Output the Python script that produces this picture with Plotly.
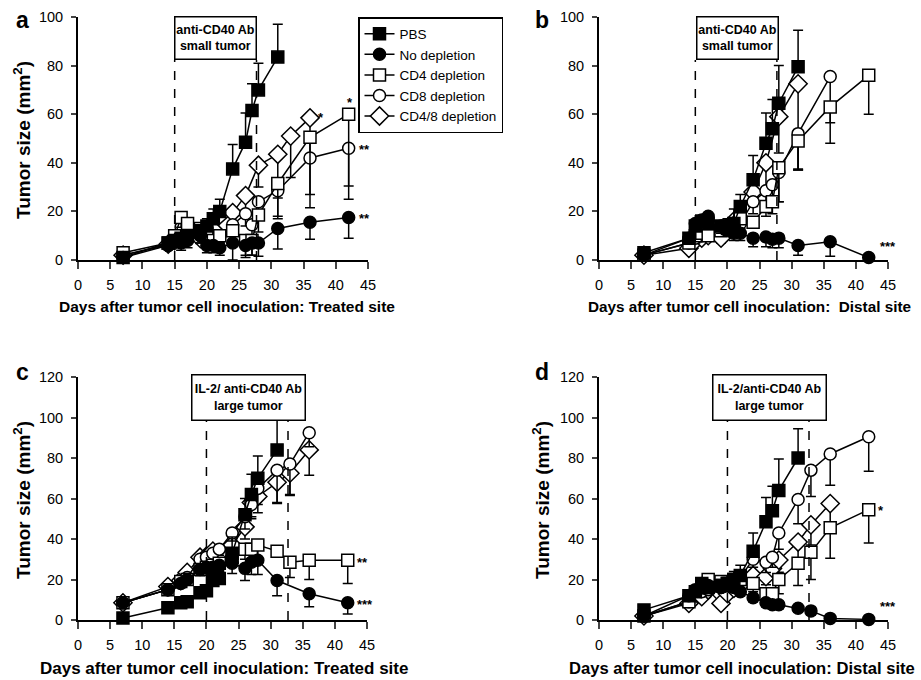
import plotly.graph_objects as go

# ---------------- data ----------------
SERIES = ["PBS", "No depletion", "CD4 depletion", "CD8 depletion", "CD4/8 depletion"]
X_TICKS = [0, 5, 10, 15, 20, 25, 30, 35, 40, 45]

# Panel a: treated site, anti-CD40 Ab small tumor
A_PBS_D = [7, 14, 15, 16, 17, 19, 20, 21, 22, 24, 26, 27, 28, 31]
A_PBS_V = [1, 7, 8, 9, 10, 12, 14, 17, 20, 37.5, 48.5, 61.5, 70, 83.5]
A_PBS_E = [0, 1, 1, 2, 2, 2, 3, 4, 5, 10, 12, 11, 11, 13.5]
A_NOD_D = [7, 14, 15, 16, 17, 19, 20, 21, 22, 24, 26, 27, 28, 31, 36, 42]
A_NOD_V = [1, 6, 8, 7, 8, 10, 6, 6, 5, 7, 6, 7, 7, 13, 15.5, 17.5]
A_NOD_E = [0, 1, 3, 3, 3, 3, 3, 3, 3, 7, 5, 5, 5.5, 8.5, 7, 8.5]
A_CD4_D = [7, 14, 15, 16, 17, 19, 20, 21, 22, 24, 26, 27, 28, 31, 36, 42]
A_CD4_V = [3, 7, 10, 17.5, 15, 13, 11, 8, 10, 12, 8, 8, 18.5, 31.5, 50.5, 60]
A_CD4_E = [0, 1, 3, 4, 4, 3, 3, 3, 3, 4, 6, 6, 7, 13.5, 29, 35]
A_CD8_D = [7, 14, 15, 16, 17, 19, 20, 21, 22, 24, 26, 27, 28, 31, 36, 42]
A_CD8_V = [2, 6, 9, 13.5, 12, 10, 9, 9, 10, 14.5, 19, 14.5, 24, 28.5, 42, 46]
A_CD8_E = [0, 1, 3, 4, 4, 3, 3, 3, 3, 4, 5, 5, 6, 11.5, 15, 15.5]
A_C48_D = [7, 14, 15, 16, 17, 19, 21, 24, 26, 28, 31, 33, 36]
A_C48_V = [2, 6.5, 8, 10, 12, 8.8, 12.5, 19.5, 26.5, 39, 43.5, 51, 58.5]
A_C48_E = [0, 1, 2, 3, 3, 2, 3, 4, 6, 9, 18, 17, 16]

# Panel b: distal site, anti-CD40 Ab small tumor
B_PBS_D = [7, 14, 15, 16, 17, 19, 20, 21, 22, 24, 26, 27, 28, 31]
B_PBS_V = [3, 9, 14, 16, 15, 14, 14, 15, 22, 33, 48, 54, 64.5, 79.5]
B_PBS_E = [0, 1, 2, 2, 2, 2, 3, 6, 5, 10, 12.5, 12, 15.5, 15]
B_NOD_D = [7, 14, 15, 16, 17, 19, 20, 21, 22, 24, 26, 27, 28, 31, 36, 42]
B_NOD_V = [2, 9, 15, 16.5, 18, 14, 13, 11, 11, 9, 9.5, 8.5, 9, 6, 7.5, 1]
B_NOD_E = [0, 1, 3, 3, 3, 3, 3, 3, 3, 3.5, 4, 3.5, 4, 4, 6, 0.5]
B_CD4_D = [7, 14, 15, 16, 17, 19, 20, 21, 22, 24, 26, 27, 28, 31, 36, 42]
B_CD4_V = [2, 7, 10, 11, 10, 12, 13, 14, 17, 15.5, 22, 24, 38, 49, 63, 76]
B_CD4_E = [0, 1, 2, 2, 2, 2, 3, 3, 4, 1.5, 4, 5, 14, 12, 15, 16]
B_CD8_D = [7, 14, 15, 16, 17, 19, 20, 21, 22, 24, 26, 27, 28, 31, 36]
B_CD8_V = [2, 7, 9, 10, 11, 13, 13, 13, 15, 24, 28.5, 31, 36, 52, 75.5]
B_CD8_E = [0, 1, 2, 2, 2, 2, 2, 3, 3, 5, 8, 7, 12, 15, 19]
B_C48_D = [7, 14, 15, 16, 17, 19, 21, 22, 24, 26, 28, 31]
B_C48_V = [2, 4.8, 8, 9, 10, 9, 16, 17, 28, 40, 59, 72.5]
B_C48_E = [0, 1, 2, 2, 2, 2, 3, 4, 6, 10, 15, 35]

# Panel c: treated site, IL-2/anti-CD40 Ab large tumor
C_PBS_D = [7, 14, 16, 17, 19, 20, 21, 22, 24, 26, 27, 28, 31]
C_PBS_V = [1, 6, 8.5, 9, 13.5, 14.5, 19.5, 20.5, 33, 52, 62, 70, 84]
C_PBS_E = [0, 1, 1, 1, 2, 2, 3, 3, 8, 8, 10, 11, 15]
C_NOD_D = [7, 14, 16, 17, 19, 20, 21, 22, 24, 26, 27, 28, 31, 36, 42]
C_NOD_V = [8.5, 15, 18, 20, 25, 26, 26, 27, 28, 25.5, 28.5, 29.5, 19.5, 13, 8.5]
C_NOD_E = [0, 2, 2, 2, 3, 3, 3, 3, 5, 6, 6, 7, 7.5, 6.5, 5.5]
C_CD4_D = [7, 14, 16, 17, 19, 20, 21, 22, 24, 26, 27, 28, 31, 33, 36, 42]
C_CD4_V = [8.5, 15, 19, 20, 25, 26, 27, 28, 31, 35, 35, 37, 34, 28.5, 29.5, 29.5]
C_CD4_E = [0, 2, 2, 2, 3, 3, 3, 3, 4, 5, 5, 6, 2, 7.5, 9.5, 11.5]
C_CD8_D = [7, 14, 16, 17, 19, 20, 21, 22, 24, 26, 27, 28, 31, 33, 36]
C_CD8_V = [8.5, 15, 19, 21, 30, 31, 33, 35, 43, 51, 57, 65, 74, 77, 92.5]
C_CD8_E = [0, 2, 2, 2, 3, 3, 3, 3, 4, 6, 7, 8, 16, 15, 7]
C_C48_D = [7, 14, 16, 17, 19, 20, 21, 22, 24, 26, 27, 28, 31, 33, 36]
C_C48_V = [8.5, 16.5, 19.5, 23.5, 31, 31.5, 34, 33, 37, 46, 58, 61, 68, 72.5, 84]
C_C48_E = [0, 2, 2, 2, 3, 3, 3, 3, 4, 6, 7, 8, 10.5, 11, 12.5]

# Panel d: distal site, IL-2/anti-CD40 Ab large tumor
D_PBS_D = [7, 14, 15, 16, 17, 19, 20, 21, 22, 24, 26, 27, 28, 31]
D_PBS_V = [5, 12, 14, 18, 16, 17, 18, 20, 22, 34, 48.5, 54, 64, 80]
D_PBS_E = [0, 2, 2, 2, 2, 3, 3, 4, 5, 9, 12, 12, 15.5, 14.5]
D_NOD_D = [7, 14, 15, 16, 17, 19, 20, 21, 22, 24, 26, 27, 28, 31, 33, 36, 42]
D_NOD_V = [2, 12, 15, 18, 17, 16, 18, 16, 14, 11, 8.5, 7.5, 7.5, 5.8, 4.5, 0.8, 0.3]
D_NOD_E = [0, 2, 2, 2, 2, 2, 2, 2, 2, 2, 2, 2, 2, 2, 2, 0.5, 0.2]
D_CD4_D = [7, 14, 16, 17, 19, 20, 21, 22, 24, 26, 27, 28, 31, 33, 36, 42]
D_CD4_V = [2, 9, 16, 20, 19, 18, 20, 20, 18, 13, 13, 20, 28, 33.5, 45.5, 54.5]
D_CD4_E = [0, 2, 3, 3, 3, 3, 3, 3, 4, 4, 4, 7, 11, 13.5, 15, 16.5]
D_CD8_D = [7, 14, 16, 17, 19, 20, 21, 22, 24, 26, 27, 28, 31, 33, 36, 42]
D_CD8_V = [2, 9, 14, 15, 16, 17, 19, 21, 30, 28.5, 31, 43, 59.5, 74, 82, 90.5]
D_CD8_E = [0, 2, 2, 2, 2, 3, 3, 3, 4, 5, 5, 8, 12, 13, 15.5, 17]
D_C48_D = [7, 14, 16, 17, 19, 20, 21, 22, 24, 26, 27, 28, 31, 33, 36]
D_C48_V = [2, 8.2, 11.5, 14.8, 8.2, 13, 15.6, 17.3, 22, 21.4, 25.5, 29.6, 38.5, 47, 57.5]
D_C48_E = [0, 1, 2, 2, 2, 2, 2, 3, 4, 4, 5, 6, 8, 10, 12]

TREAT_A = [15, 27.7]     # dashed treatment-window lines, panels a/b
TREAT_C = [20, 32.7]     # panels c/d

# ---------------- layout helpers ----------------
W, H = 921, 680
FONT = "Liberation Sans, Arial, sans-serif"

PANELS = [
    dict(key="a", xs=(78, 368), ys=(17, 260), ymax=100, ax=""),
    dict(key="b", xs=(599, 888), ys=(17, 260), ymax=100, ax="2"),
    dict(key="c", xs=(78, 367), ys=(377, 620), ymax=120, ax="3"),
    dict(key="d", xs=(599, 888), ys=(377, 620), ymax=120, ax="4"),
]

DATA = {
    "a": [(A_PBS_D, A_PBS_V, A_PBS_E), (A_NOD_D, A_NOD_V, A_NOD_E), (A_CD4_D, A_CD4_V, A_CD4_E),
          (A_CD8_D, A_CD8_V, A_CD8_E), (A_C48_D, A_C48_V, A_C48_E)],
    "b": [(B_PBS_D, B_PBS_V, B_PBS_E), (B_NOD_D, B_NOD_V, B_NOD_E), (B_CD4_D, B_CD4_V, B_CD4_E),
          (B_CD8_D, B_CD8_V, B_CD8_E), (B_C48_D, B_C48_V, B_C48_E)],
    "c": [(C_PBS_D, C_PBS_V, C_PBS_E), (C_NOD_D, C_NOD_V, C_NOD_E), (C_CD4_D, C_CD4_V, C_CD4_E),
          (C_CD8_D, C_CD8_V, C_CD8_E), (C_C48_D, C_C48_V, C_C48_E)],
    "d": [(D_PBS_D, D_PBS_V, D_PBS_E), (D_NOD_D, D_NOD_V, D_NOD_E), (D_CD4_D, D_CD4_V, D_CD4_E),
          (D_CD8_D, D_CD8_V, D_CD8_E), (D_C48_D, D_C48_V, D_C48_E)],
}

STYLES = [
    dict(symbol="square", color="black"),
    dict(symbol="circle", color="black"),
    dict(symbol="square", color="white"),
    dict(symbol="circle", color="white"),
    dict(symbol="diamond", color="white"),
]
DRAW_ORDER = [4, 3, 2, 1, 0]

fig = go.Figure()

for p in PANELS:
    xa = "x" + p["ax"]
    ya = "y" + p["ax"]
    for i in DRAW_ORDER:
        d, v, e = DATA[p["key"]][i]
        st = STYLES[i]
        if i == 0:
            err = dict(type="data", symmetric=False, array=e, arrayminus=[0] * len(e),
                       color="black", thickness=1.5, width=5)
        else:
            err = dict(type="data", symmetric=False, array=[0] * len(e), arrayminus=e,
                       color="black", thickness=1.5, width=5)
        fig.add_trace(go.Scatter(
            x=d, y=v, mode="lines+markers", name=SERIES[i], xaxis=xa, yaxis=ya,
            line=dict(color="black", width=1.5),
            marker=dict(symbol=st["symbol"], color=st["color"],
                        size=14 if st["symbol"] == "diamond" else 12,
                        line=dict(color="black", width=1.5)),
            error_y=err, cliponaxis=False,
            showlegend=(p["key"] == "a"), legendrank=i + 1,
        ))

layout = dict(
    width=W, height=H, margin=dict(l=0, r=0, t=0, b=0, autoexpand=False),
    paper_bgcolor="white", plot_bgcolor="white",
    font=dict(family=FONT, color="black", size=14),
    showlegend=True,
    legend=dict(x=358 / W, y=1 - 17 / H, xanchor="left", yanchor="top",
                bordercolor="black", borderwidth=1.5, bgcolor="white",
                font=dict(size=13.5, family=FONT), tracegroupgap=0,
                itemwidth=30, traceorder="normal"),
)

for p in PANELS:
    xk = "xaxis" + p["ax"]
    yk = "yaxis" + p["ax"]
    layout[xk] = dict(domain=[p["xs"][0] / W, p["xs"][1] / W], range=[0, 45],
                      anchor="y" + p["ax"], tickvals=X_TICKS, ticks="outside",
                      ticklen=7, tickwidth=2, showline=True, linewidth=2, linecolor="black",
                      showgrid=False, zeroline=False, ticklabelstandoff=4,
                      tickfont=dict(size=14.5, family=FONT))
    layout[yk] = dict(domain=[1 - p["ys"][1] / H, 1 - p["ys"][0] / H], range=[0, p["ymax"]],
                      anchor="x" + p["ax"], dtick=20, ticks="outside",
                      ticklen=5, tickwidth=2, showline=True, linewidth=2, linecolor="black",
                      showgrid=False, zeroline=False, ticklabelstandoff=5,
                      tickfont=dict(size=14.5, family=FONT))

fig.update_layout(**layout)

ann = []
shapes = []

# panel letters
for key, (px, py) in {"a": (22, 20), "b": (542, 20), "c": (22, 372), "d": (542, 372)}.items():
    ann.append(dict(text="<b>%s</b>" % key, x=px / W, y=1 - py / H, xref="paper", yref="paper",
                    xanchor="center", yanchor="middle", showarrow=False,
                    font=dict(family=FONT, size=23)))

# x titles
for txt, px, py, fs in [
    ("Days after tumor cell inoculation: Treated site", 227, 307, 15.5),
    ("Days after tumor cell inoculation:&nbsp; Distal site", 749, 307, 15.3),
    ("Days after tumor cell inoculation: Treated site", 224, 668, 17),
    ("Days after tumor cell inoculation: Distal site", 742, 668, 16.6),
]:
    ann.append(dict(text="<b>%s</b>" % txt, x=px / W, y=1 - py / H, xref="paper", yref="paper",
                    xanchor="center", yanchor="middle", showarrow=False,
                    font=dict(family=FONT, size=fs)))

# y titles
for px, py in [(22, 140), (22, 500), (541, 500)]:
    ann.append(dict(text="<b>Tumor size (mm<sup>2</sup>)</b>", x=px / W, y=1 - py / H,
                    xref="paper", yref="paper", xanchor="center", yanchor="middle",
                    showarrow=False, textangle=-90,
                    font=dict(family=FONT, size=19)))

# treatment boxes and dashed lines
BOXES = [
    ("", "anti-CD40 Ab<br>small tumor", 21.4, 91.2, 80, 41, TREAT_A, 82.3),
    ("2", "anti-CD40 Ab<br>small tumor", 21.5, 91.2, 80, 41, TREAT_A, 82.3),
    ("3", "IL-2/ anti-CD40 Ab<br>large tumor", 26.6, 109.7, 112, 44, TREAT_C, 98.3),
    ("4", "IL-2/anti-CD40 Ab<br>large tumor", 26.6, 109.7, 112, 44, TREAT_C, 98.3),
]
for ax, txt, bx, by, bw, bh, lines, ytop in BOXES:
    ann.append(dict(text="<b>%s</b>" % txt, x=bx, y=by, xref="x" + ax, yref="y" + ax,
                    xanchor="center", yanchor="middle",
                    showarrow=False, width=bw, height=bh, borderpad=0,
                    bordercolor="black", borderwidth=1.5, bgcolor="white",
                    font=dict(family=FONT, size=12.5)))
    for lx in lines:
        shapes.append(dict(type="line", xref="x" + ax, yref="y" + ax, x0=lx, x1=lx, y0=0, y1=ytop,
                           line=dict(color="black", width=1.5, dash="dash")))

# significance stars
STARS = [
    ("", "*", 36.9, 58.5), ("", "*", 41.4, 65), ("", "**", 43.3, 45.5), ("", "**", 43.3, 17),
    ("2", "***", 43.4, 5.5),
    ("3", "**", 43.2, 28.5), ("3", "***", 43.2, 7.5),
    ("4", "*", 43.2, 54), ("4", "***", 43.4, 6.5),
]
for ax, s, sx, sy in STARS:
    ann.append(dict(text="<b>%s</b>" % s, x=sx, y=sy, xref="x" + ax, yref="y" + ax,
                    xanchor="left", yanchor="middle", showarrow=False,
                    font=dict(family=FONT, size=13)))

fig.update_layout(annotations=ann, shapes=shapes)
fig.write_html("out.html", config={"displayModeBar": False},
               post_script="document.body.style.margin='0';document.body.style.padding='0';")
